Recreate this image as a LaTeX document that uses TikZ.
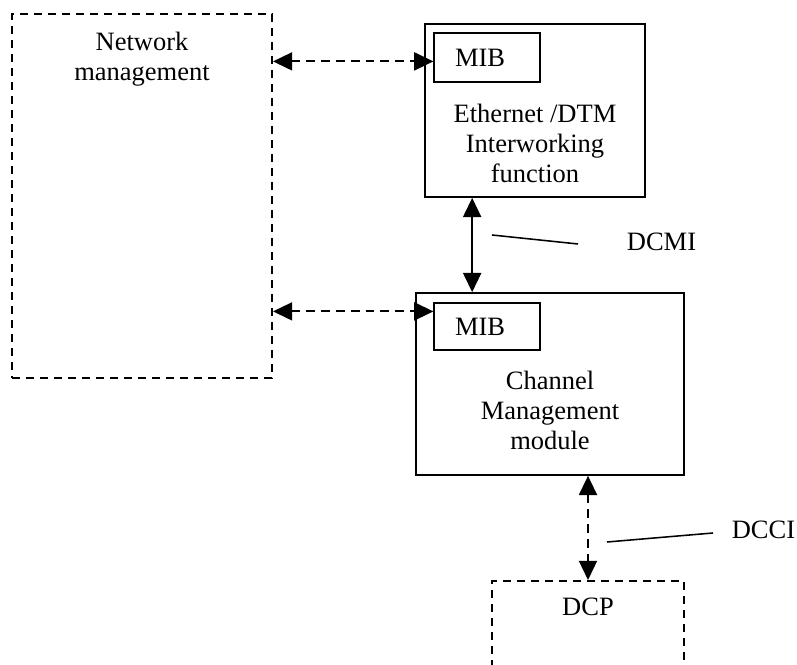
\documentclass[tikz,border=0pt]{standalone}
\usepackage{fontspec}
\setmainfont{Liberation Serif}
\usetikzlibrary{arrows.meta,positioning}

\begin{document}
\begin{tikzpicture}[
  every node/.style={font=\fontsize{18.85pt}{21.3pt}\selectfont},
  dashbox/.style={draw=cl,line width=1.4pt,dash pattern=on 0.21cm off 0.14cm,inner sep=0pt},
  modbox/.style={draw=cl,line width=1.2pt,inner sep=0pt},
  mibbox/.style={draw=cl,line width=0.85pt,minimum width=2.65cm,text width=1.6cm,inner xsep=0.525cm,inner ysep=0pt,align=left},
  txt/.style={inner sep=0pt,align=center,text=cl},
  link/.style={draw=cl,line width=1.4pt,{Triangle[length=0.48cm,width=0.45cm]}-{Triangle[length=0.48cm,width=0.45cm]}},
  dashlink/.style={link,dash pattern=on 0.22cm off 0.15cm},
  leader/.style={draw=cl,line width=1.1pt}
]
%
\useasboundingbox (0,0) rectangle (19.925cm,16.6cm);
\clip (0,0) rectangle (19.925cm,16.6cm);
%
\definecolor{cl}{rgb}{0.0,0.0,0.0}
%
\node[dashbox,minimum width=6.5cm,minimum height=9.1cm] (nm) at (3.55,11.7) {};
\node[txt,anchor=north] (nmlabel) at (3.55,15.8) {Network\\management};
%
\node[modbox,minimum width=5.5cm,minimum height=4.325cm] (eth) at (13.375,13.8375) {};
\node[mibbox,minimum height=1.225cm] (mib1) at (12.175,15.1625) {MIB};
\node[txt,anchor=north] (ethlabel) at (13.375,14.01) {Ethernet /DTM\\Interworking\\function};
%
\node[modbox,minimum width=6.7cm,minimum height=4.55cm] (cm) at (13.75,7.0) {};
\node[mibbox,minimum height=1.175cm] (mib2) at (12.175,8.4375) {MIB};
\node[txt,anchor=north] (cmlabel) at (13.75,7.325) {Channel\\Management\\module};
%
\node[dashbox,minimum width=4.8cm,minimum height=3.475cm] (dcp) at (14.7,0.3375) {};
\node[txt,anchor=base] (dcplabel) at (14.7,1.225) {DCP};
%
\node[txt,anchor=base] (dcmi) at (16.5375,10.325) {DCMI};
\node[txt,anchor=base] (dcci) at (19.0875,3.125) {DCCI};
%
\coordinate (p1) at ([yshift=-0.725cm]mib1.north west);
\coordinate (p2) at ([yshift=-0.225cm]mib2.north west);
\coordinate (p3) at ([xshift=1.2cm]eth.south west);
\draw[dashlink] (nm.east |- p1) -- (p1);
\draw[dashlink] (nm.east |- p2) -- (p2);
\draw[link] (p3) -- (cm.north -| p3);
\draw[dashlink] (cm.south -| dcp.north) -- (dcp.north);
%
\coordinate (dcmia) at (12.3,10.725);
\coordinate (dcmib) at (14.45,10.5);
\coordinate (dccia) at (15.175,3.05);
\coordinate (dccib) at (17.825,3.275);
\draw[leader] (dcmia) -- (dcmib);
\draw[leader] (dccia) -- (dccib);
%
\end{tikzpicture}
\end{document}
